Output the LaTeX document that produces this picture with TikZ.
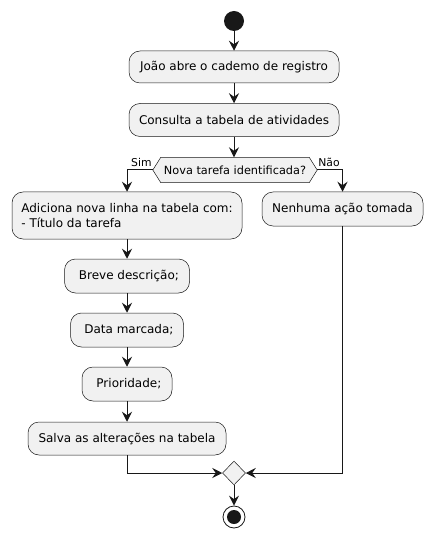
\documentclass[tikz,border=0pt]{standalone}
\usepackage{fontspec}
\setmainfont{DejaVu Sans}
\usetikzlibrary{arrows.meta,shapes.geometric,positioning}
\definecolor{ink}{HTML}{181818}
\definecolor{boxfill}{HTML}{F1F1F1}
\tikzset{
  act/.style={draw=ink, line width=0.5pt, fill=boxfill, rounded corners=11pt, inner sep=0pt, font=\fontsize{12}{14.5}\selectfont, text=black},
  flow/.style={draw=ink, line width=1pt, -{Stealth[length=10pt,width=10pt,inset=3.5pt]}},
  lbl/.style={font=\fontsize{10.8}{12}\selectfont, inner sep=0pt}
}
\begin{document}
\begin{tikzpicture}[x=1pt,y=-1pt]
\useasboundingbox (0,0) rectangle (433,537);
% start
\node[circle, fill=ink, minimum size=20pt, inner sep=0pt] (start) at (234,21) {};
% actions
\node[act, minimum width=210pt, minimum height=32pt] (a1) at (234,67) {João abre o cademo de registro};
\node[act, minimum width=210pt, minimum height=33pt] (a2) at (234,120) {Consulta a tabela de atividades};
% decision
\node[inner sep=0pt, minimum width=148pt, minimum height=25pt] (dec) at (235,170) {};
\coordinate (decL) at ([xshift=-8pt]dec.west);
\coordinate (decR) at ([xshift=8pt]dec.east);
\draw[draw=ink, line width=0.5pt, fill=boxfill] (decL) -- (dec.north west) -- (dec.north east) -- (decR) -- (dec.south east) -- (dec.south west) -- cycle;
\node[inner sep=0pt, font=\fontsize{11.3}{13}\selectfont] (dectext) at (dec) {Nova tarefa identificada?};
\node[lbl, anchor=south east] (sim) at ([xshift=-1pt,yshift=3pt]decL) {Sim};
\node[lbl, anchor=south west] (nao) at ([xshift=1pt,yshift=3pt]decR) {Não};
% branches
\node[act, minimum width=230pt, minimum height=47pt, align=left] (b1) at (127,215.5) {Adiciona nova linha na tabela com:\\- Título da tarefa};
\node[act, minimum width=161pt, minimum height=34pt] (n1) at (342.5,209) {Nenhuma ação tomada};
\node[act, minimum width=125pt, minimum height=34pt] (b2) at (127,276) {\ Breve descrição;};
\node[act, minimum width=113pt, minimum height=34pt] (b3) at (127,330) {\ Data marcada;};
\node[act, minimum width=90pt, minimum height=34pt] (b4) at (127,384) {\ Prioridade;};
\node[act, minimum width=198pt, minimum height=33pt] (b5) at (127,438.5) {Salva as alterações na tabela};
% merge
\node[diamond, draw=ink, line width=0.5pt, fill=boxfill, minimum width=23pt, minimum height=24pt, inner sep=0pt] (m) at (234,473) {};
% end
\node[circle, draw=ink, line width=0.8pt, fill=white, minimum size=22pt, inner sep=0pt] (end) at (234,517) {};
\node[circle, fill=ink, minimum size=14pt, inner sep=0pt] (endin) at (end) {};
% connectors
\draw[flow] (start) -- (a1);
\draw[flow] (a1) -- (a2);
\draw[flow] (a2) -- (dec.north -| a2);
\draw[flow] (decL) -| (b1.north);
\draw[flow] (decR) -| (n1.north);
\draw[flow] (b1) -- (b2);
\draw[flow] (b2) -- (b3);
\draw[flow] (b3) -- (b4);
\draw[flow] (b4) -- (b5);
\draw[flow] (b5.south) |- (m.west);
\draw[flow] (n1.south) |- (m.east);
\draw[flow] (m) -- (end);
\end{tikzpicture}
\end{document}
